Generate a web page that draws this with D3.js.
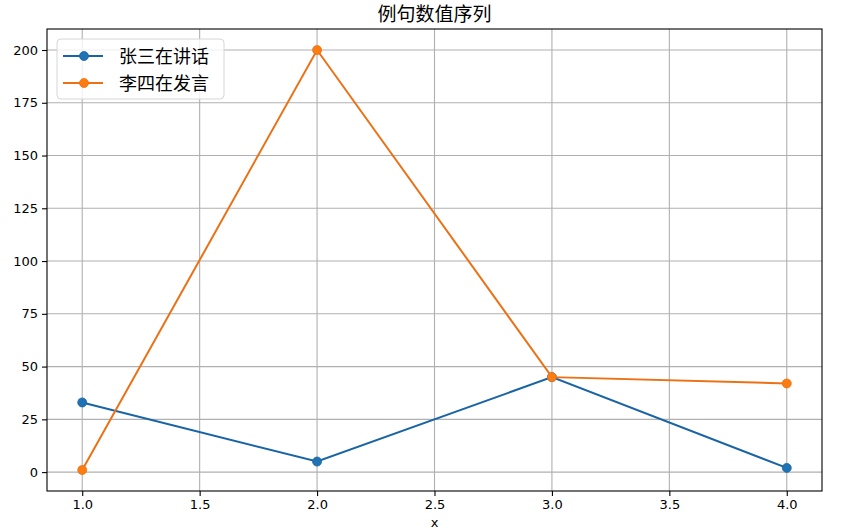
<!DOCTYPE html>
<html>
<head>
<meta charset="utf-8">
<script src="https://cdn.jsdelivr.net/npm/d3@7"></script>
<style>
  html, body { margin: 0; padding: 0; background: #fff; }
  svg { display: block; }
</style>
</head>
<body>
<div id="chart"></div>
<script>
// Chart data
const xValues = [1, 2, 3, 4];
const seriesNames = ['张三在讲话', '李四在发言'];
const zhangValues = [33, 5, 45, 2];
const liValues = [1, 200, 45, 42];
const xTicks = [1.0, 1.5, 2.0, 2.5, 3.0, 3.5, 4.0];
const yTicks = [0, 25, 50, 75, 100, 125, 150, 175, 200];
const titleText = '例句数值序列';

const width = 841;
const height = 531;
const margin = { top: 29, right: 19, bottom: 40, left: 47 };
const plotW = width - margin.left - margin.right;
const plotH = height - margin.top - margin.bottom;

const lineColors = ['#1864a5', '#ec7115'];
const dotColors = ['#1f72b4', '#fb7d12'];
const tickFont = '"DejaVu Sans", sans-serif';
const cjkFont = '"Noto Sans CJK SC", "Noto Sans", sans-serif';

const svg = d3.select('#chart')
  .append('svg')
  .attr('width', width)
  .attr('height', height);

const g = svg.append('g')
  .attr('transform', `translate(${margin.left},${margin.top})`);

// matplotlib-style 5% padding around the data
const x = d3.scaleLinear().domain([0.85, 4.15]).range([0, plotW]);
const y = d3.scaleLinear().domain([-8.95, 209.95]).range([plotH, 0]);

// Grid lines
g.append('g')
  .selectAll('line')
  .data(xTicks)
  .join('line')
  .attr('x1', d => x(d)).attr('x2', d => x(d))
  .attr('y1', 0).attr('y2', plotH)
  .attr('stroke', '#b0b0b0')
  .attr('stroke-width', 1.1);

g.append('g')
  .selectAll('line')
  .data(yTicks)
  .join('line')
  .attr('x1', 0).attr('x2', plotW)
  .attr('y1', d => y(d)).attr('y2', d => y(d))
  .attr('stroke', '#b0b0b0')
  .attr('stroke-width', 1.1);

// Axes
const xAxis = g.append('g')
  .attr('transform', `translate(0,${plotH})`)
  .call(d3.axisBottom(x).tickValues(xTicks).tickFormat(d3.format('.1f')).tickSizeOuter(0).tickSize(5).tickPadding(4));

const yAxis = g.append('g')
  .call(d3.axisLeft(y).tickValues(yTicks).tickSizeOuter(0).tickSize(5).tickPadding(4));

[xAxis, yAxis].forEach(ax => {
  ax.select('.domain').remove();
  ax.selectAll('line').attr('stroke', '#000').attr('stroke-width', 1.1);
  ax.selectAll('text')
    .style('font-family', tickFont)
    .style('font-size', '13px')
    .attr('fill', '#000');
});

// Plot frame
g.append('rect')
  .attr('x', 0).attr('y', 0)
  .attr('width', plotW).attr('height', plotH)
  .attr('fill', 'none')
  .attr('stroke', '#000')
  .attr('stroke-width', 1.1);

// Lines and markers
const series = [zhangValues, liValues];
const line = d3.line()
  .x((d, i) => x(xValues[i]))
  .y(d => y(d));

series.forEach((vals, si) => {
  g.append('path')
    .datum(vals)
    .attr('d', line)
    .attr('fill', 'none')
    .attr('stroke', lineColors[si])
    .attr('stroke-width', 2);

  g.append('g')
    .selectAll('circle')
    .data(vals)
    .join('circle')
    .attr('cx', (d, i) => x(xValues[i]))
    .attr('cy', d => y(d))
    .attr('r', 4.5)
    .attr('fill', dotColors[si])
    .attr('stroke', lineColors[si])
    .attr('stroke-width', 0.8);
});

// Title
svg.append('text')
  .attr('x', margin.left + plotW / 2)
  .attr('y', 21)
  .attr('text-anchor', 'middle')
  .style('font-family', cjkFont)
  .style('font-size', '19px')
  .attr('fill', '#000')
  .text(titleText);

// X axis label, sitting at the very bottom edge like the original
svg.append('text')
  .attr('x', margin.left + plotW / 2)
  .attr('y', 527)
  .attr('text-anchor', 'middle')
  .style('font-family', tickFont)
  .style('font-size', '13px')
  .attr('fill', '#000')
  .text('x');

// Legend
const legend = svg.append('g')
  .attr('transform', `translate(${margin.left + 10},${margin.top + 10})`);

legend.append('rect')
  .attr('width', 167)
  .attr('height', 60)
  .attr('rx', 4)
  .attr('fill', '#fff')
  .attr('fill-opacity', 0.8)
  .attr('stroke', '#d6d6d6')
  .attr('stroke-width', 1);

seriesNames.forEach((name, i) => {
  const row = legend.append('g')
    .attr('transform', `translate(0,${17 + i * 27})`);
  row.append('line')
    .attr('x1', 6).attr('x2', 46)
    .attr('stroke', lineColors[i])
    .attr('stroke-width', 2);
  row.append('circle')
    .attr('cx', 27).attr('r', 4.5)
    .attr('fill', dotColors[i])
    .attr('stroke', lineColors[i])
    .attr('stroke-width', 0.8);
  row.append('text')
    .attr('x', 62)
    .attr('y', 6.5)
    .style('font-family', cjkFont)
    .style('font-size', '18px')
    .attr('fill', '#000')
    .text(name);
});
</script>
</body>
</html>
